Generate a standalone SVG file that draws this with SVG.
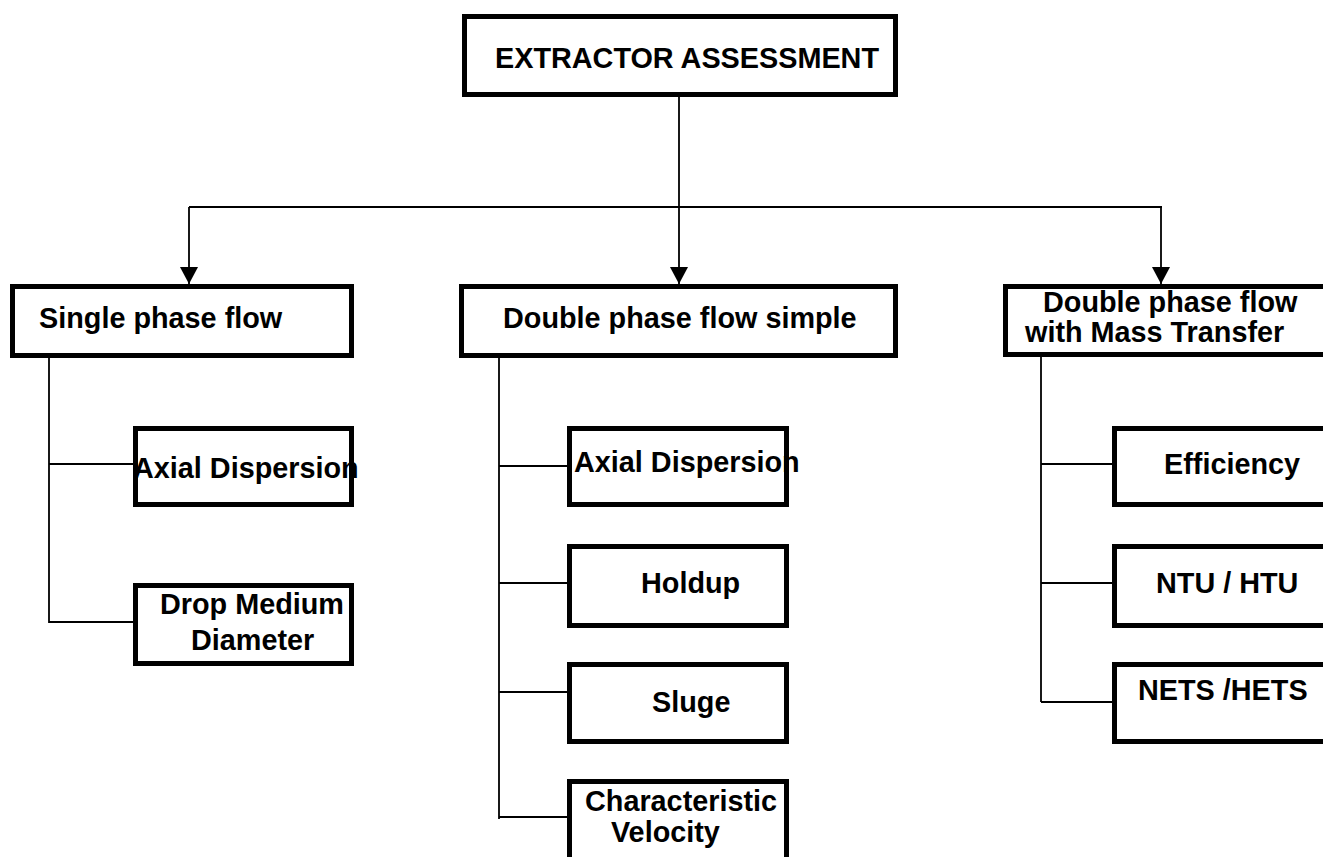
<svg xmlns="http://www.w3.org/2000/svg" width="1323" height="857" viewBox="0 0 1323 857">
  <style>
    .box { fill: #ffffff; stroke: #000000; stroke-width: 5; }
    .wire { fill: none; stroke: #000000; stroke-width: 1.8; }
    .lbl { font-family: "Liberation Sans", Arial, sans-serif; font-weight: bold; font-size: 28.8px; fill: #000000; }
  </style>
  <defs>
    <marker id="arrow" markerUnits="userSpaceOnUse" markerWidth="20" markerHeight="18" refX="17" refY="9" orient="auto">
      <path d="M0,0 L17,9 L0,18 Z" fill="#000000"/>
    </marker>
  </defs>
  <rect x="0" y="0" width="1323" height="857" fill="#ffffff"/>

  <!-- connectors -->
  <g id="connectors">
    <path class="wire" d="M679,97 V207"/>
    <path class="wire" d="M189,207 H1162"/>
    <path class="wire" d="M189,207 V284" marker-end="url(#arrow)"/>
    <path class="wire" d="M679,207 V284" marker-end="url(#arrow)"/>
    <path class="wire" d="M1161,207 V284" marker-end="url(#arrow)"/>

    <!-- single phase branch -->
    <path class="wire" d="M49,358 V623"/>
    <path class="wire" d="M49,464 H134"/>
    <path class="wire" d="M49,622 H133"/>

    <!-- double phase simple branch -->
    <path class="wire" d="M499,358 V819"/>
    <path class="wire" d="M499,466 H568"/>
    <path class="wire" d="M499,583 H568"/>
    <path class="wire" d="M499,692 H568"/>
    <path class="wire" d="M499,817 H568"/>

    <!-- mass transfer branch -->
    <path class="wire" d="M1041,357 V702"/>
    <path class="wire" d="M1041,464 H1113"/>
    <path class="wire" d="M1041,583 H1113"/>
    <path class="wire" d="M1041,702 H1113"/>
  </g>

  <g id="root">
    <rect class="box" x="464.5" y="16.5" width="431" height="78"/>
    <text class="lbl" x="495" y="68">EXTRACTOR ASSESSMENT</text>
  </g>

  <g id="single-phase">
    <rect class="box" x="12.5" y="286.5" width="339" height="69"/>
    <text class="lbl" x="39" y="328">Single phase flow</text>
  </g>

  <g id="double-phase-simple">
    <rect class="box" x="461.5" y="286.5" width="434" height="69"/>
    <text class="lbl" x="503" y="328">Double phase flow simple</text>
  </g>

  <g id="double-phase-mass">
    <rect class="box" x="1005.5" y="286.5" width="330" height="68"/>
    <text class="lbl" x="1043" y="312">Double phase flow</text>
    <text class="lbl" x="1025" y="342">with Mass Transfer</text>
  </g>

  <g id="sp-axial">
    <rect class="box" x="135.5" y="428.5" width="216" height="76"/>
    <text class="lbl" x="133" y="478">Axial Dispersion</text>
  </g>

  <g id="sp-drop">
    <rect class="box" x="135.5" y="585.5" width="216" height="78"/>
    <text class="lbl" x="160" y="614">Drop Medium</text>
    <text class="lbl" x="191" y="650">Diameter</text>
  </g>

  <g id="ds-axial">
    <rect class="box" x="569.5" y="428.5" width="217" height="76"/>
    <text class="lbl" x="574" y="472">Axial Dispersion</text>
  </g>

  <g id="ds-holdup">
    <rect class="box" x="569.5" y="546.5" width="217" height="79"/>
    <text class="lbl" x="641" y="593">Holdup</text>
  </g>

  <g id="ds-sluge">
    <rect class="box" x="569.5" y="664.5" width="217" height="77"/>
    <text class="lbl" x="652" y="712">Sluge</text>
  </g>

  <g id="ds-velocity">
    <rect class="box" x="569.5" y="781.5" width="217" height="100"/>
    <text class="lbl" x="585" y="811">Characteristic</text>
    <text class="lbl" x="611" y="842">Velocity</text>
  </g>

  <g id="mt-efficiency">
    <rect class="box" x="1114.5" y="428.5" width="250" height="76"/>
    <text class="lbl" x="1164" y="474">Efficiency</text>
  </g>

  <g id="mt-ntu">
    <rect class="box" x="1114.5" y="546.5" width="250" height="79"/>
    <text class="lbl" x="1156" y="593">NTU / HTU</text>
  </g>

  <g id="mt-nets">
    <rect class="box" x="1114.5" y="664.5" width="250" height="77"/>
    <text class="lbl" x="1138" y="700">NETS /HETS</text>
  </g>
</svg>
